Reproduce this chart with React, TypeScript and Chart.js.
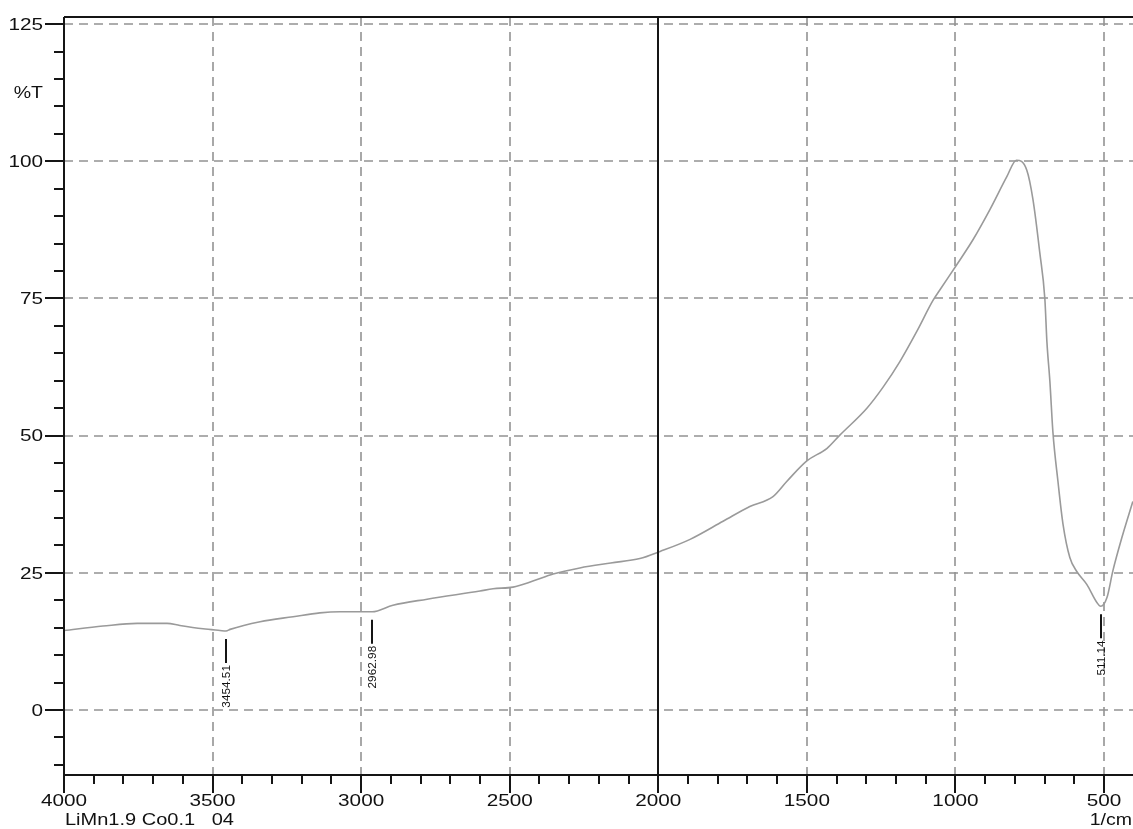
import React, { useEffect, useRef } from "react";
import { Chart, registerables } from "chart.js";

Chart.register(...registerables);

// IR spectrum: wavenumber (1/cm) against transmittance (%T)
const wavenumbers = [
  4000, 3869, 3754, 3653, 3610, 3532, 3475, 3454.51, 3441, 3340,
  3229, 3139, 3071, 2994, 2962.98, 2893, 2778, 2600, 2556, 2489,
  2422, 2354, 2264, 2160, 2062, 1994, 1893, 1782, 1692, 1614,
  1567, 1500, 1432, 1389, 1298, 1244, 1187, 1130, 1076, 1052,
  995, 941, 884, 827, 795, 760, 739, 716, 699, 692,
  682, 672, 655, 638, 615, 591, 558, 524, 511.14, 490,
  470, 440, 403,
];
const transmittance = [
  14.5, 15.3, 15.8, 15.8, 15.4, 14.8, 14.5, 14.4, 14.7, 16.1,
  17.0, 17.7, 17.9, 17.9, 17.9, 19.1, 20.2, 21.7, 22.1, 22.4,
  23.5, 24.8, 25.9, 26.8, 27.6, 28.9, 31.1, 34.4, 37.1, 38.9,
  41.7, 45.4, 47.7, 50.1, 55.0, 58.8, 63.5, 69.0, 74.6, 76.6,
  81.2, 85.7, 91.2, 97.2, 100.2, 98.4, 93, 83.3, 74.9, 67,
  59.8, 50.7, 41.7, 33.9, 27.8, 25.2, 22.9, 19.6, 18.9, 20.5,
  25.4, 31.4, 38,
];

// Picked peaks
const peakWavenumbers = [3454.51, 2962.98, 511.14];
const peakTransmittance = [14.4, 17.9, 18.9];

// Axis ticks
const xMajorTicks = [4000, 3500, 3000, 2500, 2000, 1500, 1000, 500];
const xMinorStep = 100;
const yMajorTicks = [0, 25, 50, 75, 100, 125];
const yMinorStep = 5;
const yAxisTitle = "%T";
const xAxisUnit = "1/cm";
const sampleName = "LiMn1.9 Co0.1   04";

const X_MIN = 402.4;
const X_MAX = 4000;
const Y_MIN = -11.84;
const Y_MAX = 126.3;

const FONT = '"Liberation Sans", Arial, sans-serif';

function stretchedText(
  ctx: CanvasRenderingContext2D,
  text: string,
  x: number,
  y: number,
  align: CanvasTextAlign,
  baseline: CanvasTextBaseline,
  size: number,
  sx: number,
  rotate = 0
) {
  ctx.save();
  ctx.translate(x, y);
  if (rotate) ctx.rotate(rotate);
  ctx.scale(sx, 1);
  ctx.font = `${size}px ${FONT}`;
  ctx.textAlign = align;
  ctx.textBaseline = baseline;
  ctx.fillText(text, 0, 0);
  ctx.restore();
}

const spectrumDecor = {
  id: "spectrumDecor",
  beforeDatasetsDraw(chart: any) {
    const { ctx, chartArea: a, scales } = chart;
    const x = scales.x;
    const y = scales.y;
    ctx.save();
    ctx.strokeStyle = "#939393";
    ctx.lineWidth = 1.6;
    ctx.setLineDash([9, 6]);
    for (const v of xMajorTicks) {
      if (v === X_MAX || v === 2000) continue;
      const px = Math.round(x.getPixelForValue(v));
      ctx.beginPath();
      ctx.moveTo(px, a.top);
      ctx.lineTo(px, a.bottom);
      ctx.stroke();
    }
    for (const v of yMajorTicks) {
      const py = Math.round(y.getPixelForValue(v));
      ctx.beginPath();
      ctx.moveTo(a.left, py);
      ctx.lineTo(a.right, py);
      ctx.stroke();
    }
    ctx.restore();
  },
  afterDatasetsDraw(chart: any) {
    const { ctx, chartArea: a, scales } = chart;
    const x = scales.x;
    const y = scales.y;
    ctx.save();
    ctx.setLineDash([]);
    ctx.strokeStyle = "#151515";
    ctx.lineWidth = 2;

    // frame: left axis, bottom axis, top edge
    ctx.beginPath();
    ctx.moveTo(a.left, a.top);
    ctx.lineTo(a.right, a.top);
    ctx.moveTo(a.left, a.top);
    ctx.lineTo(a.left, a.bottom);
    ctx.lineTo(a.right, a.bottom);
    ctx.stroke();

    // solid divider at 2000 1/cm
    const p2000 = Math.round(x.getPixelForValue(2000));
    ctx.beginPath();
    ctx.moveTo(p2000, a.top);
    ctx.lineTo(p2000, a.bottom);
    ctx.stroke();

    // x ticks
    ctx.beginPath();
    for (let v = X_MAX; v >= X_MIN; v -= xMinorStep) {
      const px = Math.round(x.getPixelForValue(v));
      const major = xMajorTicks.includes(v);
      ctx.moveTo(px, a.bottom);
      ctx.lineTo(px, a.bottom + (major ? 18 : 9));
    }
    // y ticks
    for (let v = -10; v <= 125; v += yMinorStep) {
      const py = Math.round(y.getPixelForValue(v));
      const major = yMajorTicks.includes(v);
      ctx.moveTo(a.left, py);
      ctx.lineTo(a.left - (major ? 19 : 10), py);
    }
    ctx.stroke();

    // labels
    ctx.fillStyle = "#111";
    for (const v of yMajorTicks) {
      stretchedText(ctx, String(v), 43, y.getPixelForValue(v) + 1, "right", "middle", 17, 1.22);
    }
    stretchedText(ctx, yAxisTitle, 43, y.getPixelForValue(112.5) + 1, "right", "middle", 16, 1.22);
    for (const v of xMajorTicks) {
      stretchedText(ctx, String(v), x.getPixelForValue(v), a.bottom + 26, "center", "middle", 17, 1.22);
    }
    stretchedText(ctx, sampleName, a.left + 1, a.bottom + 46, "left", "middle", 16, 1.25);
    stretchedText(ctx, xAxisUnit, chart.width - 1, a.bottom + 46, "right", "middle", 16, 1.22);

    // peak markers with rotated wavenumber labels
    for (let i = 0; i < peakWavenumbers.length; i++) {
      const w = peakWavenumbers[i];
      const px = Math.round(x.getPixelForValue(w));
      const py = y.getPixelForValue(peakTransmittance[i]);
      const top = py + 8;
      const bottom = top + 24;
      ctx.beginPath();
      ctx.moveTo(px, top);
      ctx.lineTo(px, bottom);
      ctx.stroke();
      stretchedText(ctx, w.toFixed(2), px + 1, bottom + 2, "right", "middle", 10, 1.18, -Math.PI / 2);
    }
    ctx.restore();
  },
};

export default function App() {
  const canvasRef = useRef<HTMLCanvasElement | null>(null);

  useEffect(() => {
    const canvas = canvasRef.current;
    if (!canvas) return;
    const chart = new Chart(canvas, {
      type: "line",
      data: {
        datasets: [
          {
            data: wavenumbers.map((w, i) => ({ x: w, y: transmittance[i] })),
            borderColor: "#9a9a9a",
            borderWidth: 1.6,
            pointRadius: 0,
            fill: false,
            cubicInterpolationMode: "monotone",
          },
        ],
      },
      options: {
        responsive: false,
        animation: false,
        devicePixelRatio: 1,
        layout: { padding: { top: 17, left: 0, right: 0, bottom: 0 } },
        plugins: { legend: { display: false }, tooltip: { enabled: false } },
        scales: {
          x: {
            type: "linear",
            reverse: true,
            min: X_MIN,
            max: X_MAX,
            grid: { display: false },
            border: { display: false },
            ticks: { display: false },
            afterFit: (s: any) => {
              s.height = 54;
            },
          },
          y: {
            type: "linear",
            min: Y_MIN,
            max: Y_MAX,
            grid: { display: false },
            border: { display: false },
            ticks: { display: false },
            afterFit: (s: any) => {
              s.width = 64;
            },
          },
        },
      },
      plugins: [spectrumDecor],
    });
    return () => chart.destroy();
  }, []);

  return (
    <div style={{ position: "absolute", left: 0, top: 0, width: 1133, height: 829, background: "#fff" }}>
      <canvas ref={canvasRef} width={1133} height={829} style={{ display: "block" }} />
    </div>
  );
}
